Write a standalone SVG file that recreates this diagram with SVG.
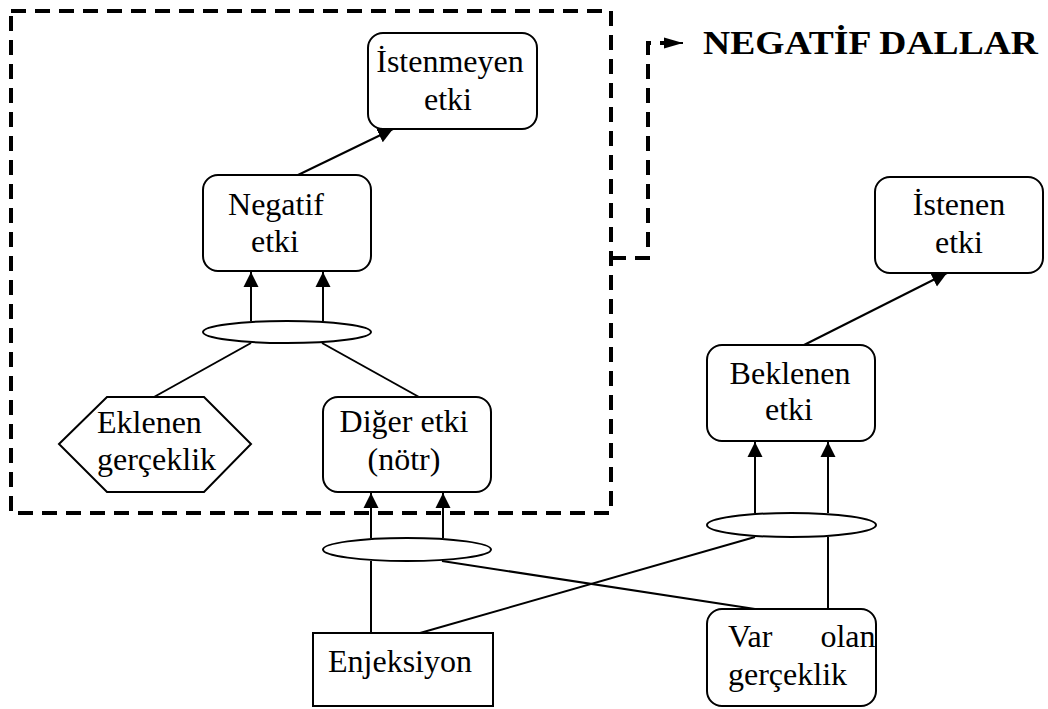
<svg xmlns="http://www.w3.org/2000/svg" width="1048" height="709" viewBox="0 0 1048 709">
  <style>
    .box { fill: #fff; stroke: #000; stroke-width: 2; }
    .lbl { font-family: "Liberation Serif", "Times New Roman", serif; font-size: 32px; fill: #000; }
    .mid { text-anchor: middle; }
    .edge { fill: none; stroke: #000; stroke-width: 2; }
    .dash { fill: none; stroke: #000; stroke-width: 4; stroke-dasharray: 15 9; }
    .title { font-family: "Liberation Serif", "Times New Roman", serif; font-size: 34px; font-weight: bold; fill: #000; }
  </style>
  <defs>
    <marker id="arr" markerUnits="userSpaceOnUse" markerWidth="16" markerHeight="16" viewBox="0 0 16 16" refX="15" refY="8" orient="auto">
      <path d="M0,0.5 L15,8 L0,15.5 Z" fill="#000"/>
    </marker>
    <marker id="arrS" markerUnits="userSpaceOnUse" markerWidth="20" markerHeight="14" viewBox="0 0 20 14" refX="19" refY="7" orient="auto">
      <path d="M0,1.5 L19,7 L0,12.5 Z" fill="#000"/>
    </marker>
  </defs>

  <rect width="1048" height="709" fill="#fff"/>

  <!-- negative branch frame -->
  <g id="negative-frame">
    <rect class="dash" x="11" y="11" width="600" height="502"/>
    <path class="dash" d="M611,258 H648 V43 H666"/>
    <line x1="664" y1="43" x2="683" y2="43" stroke="#000" stroke-width="2" marker-end="url(#arrS)"/>
    <text class="title" x="703" y="54" textLength="335" lengthAdjust="spacingAndGlyphs">NEGATİF DALLAR</text>
  </g>

  <!-- connectors -->
  <g id="connectors">
    <line class="edge" x1="298" y1="175" x2="393" y2="129" marker-end="url(#arr)"/>
    <line class="edge" x1="251" y1="321" x2="251" y2="272" marker-end="url(#arr)"/>
    <line class="edge" x1="323" y1="321" x2="323" y2="272" marker-end="url(#arr)"/>
    <line class="edge" x1="251" y1="343" x2="154" y2="397"/>
    <line class="edge" x1="322" y1="343" x2="419" y2="397"/>
    <line class="edge" x1="371" y1="538" x2="371" y2="493" marker-end="url(#arr)"/>
    <line class="edge" x1="443" y1="538" x2="443" y2="493" marker-end="url(#arr)"/>
    <line class="edge" x1="371" y1="633" x2="371" y2="561"/>
    <line class="edge" x1="442" y1="561" x2="755" y2="609"/>
    <line class="edge" x1="420" y1="633" x2="755" y2="537"/>
    <line class="edge" x1="755" y1="513" x2="755" y2="442" marker-end="url(#arr)"/>
    <line class="edge" x1="828" y1="513" x2="828" y2="442" marker-end="url(#arr)"/>
    <line class="edge" x1="828" y1="609" x2="828" y2="537"/>
    <line class="edge" x1="804" y1="345" x2="947" y2="273" marker-end="url(#arr)"/>
  </g>

  <!-- AND junctions -->
  <g id="and-negatif">
    <ellipse class="box" cx="287" cy="332" rx="84" ry="11"/>
  </g>
  <g id="and-diger">
    <ellipse class="box" cx="407" cy="549.5" rx="84" ry="11.5"/>
  </g>
  <g id="and-beklenen">
    <ellipse class="box" cx="791.5" cy="525" rx="84.5" ry="12"/>
  </g>

  <!-- nodes -->
  <g id="istenmeyen-etki">
    <rect class="box" x="368" y="33" width="169" height="96" rx="15"/>
    <text class="lbl mid" x="450" y="72">İstenmeyen</text>
    <text class="lbl mid" x="448" y="110">etki</text>
  </g>
  <g id="negatif-etki">
    <rect class="box" x="203" y="175" width="168" height="96" rx="15"/>
    <text class="lbl mid" x="276" y="215">Negatif</text>
    <text class="lbl mid" x="275" y="252">etki</text>
  </g>
  <g id="eklenen-gerceklik">
    <polygon class="box" points="59,444 107,397 204,397 251,444 204,492 107,492"/>
    <text class="lbl" x="97" y="433">Eklenen</text>
    <text class="lbl" x="97" y="470">gerçeklik</text>
  </g>
  <g id="diger-etki">
    <rect class="box" x="323" y="397" width="168" height="95" rx="15"/>
    <text class="lbl mid" x="404" y="432">Diğer etki</text>
    <text class="lbl mid" x="404" y="470">(nötr)</text>
  </g>
  <g id="enjeksiyon">
    <rect class="box" x="313" y="633" width="180" height="73"/>
    <text class="lbl mid" x="400" y="672">Enjeksiyon</text>
  </g>
  <g id="var-olan-gerceklik">
    <rect class="box" x="707" y="609" width="169" height="97" rx="15"/>
    <text class="lbl" x="728" y="647" word-spacing="40">Var olan</text>
    <text class="lbl" x="728" y="685">gerçeklik</text>
  </g>
  <g id="beklenen-etki">
    <rect class="box" x="707" y="345" width="168" height="96" rx="15"/>
    <text class="lbl mid" x="790" y="384">Beklenen</text>
    <text class="lbl mid" x="789" y="420">etki</text>
  </g>
  <g id="istenen-etki">
    <rect class="box" x="875" y="177" width="168" height="96" rx="15"/>
    <text class="lbl mid" x="959" y="215">İstenen</text>
    <text class="lbl mid" x="959" y="253">etki</text>
  </g>
</svg>
